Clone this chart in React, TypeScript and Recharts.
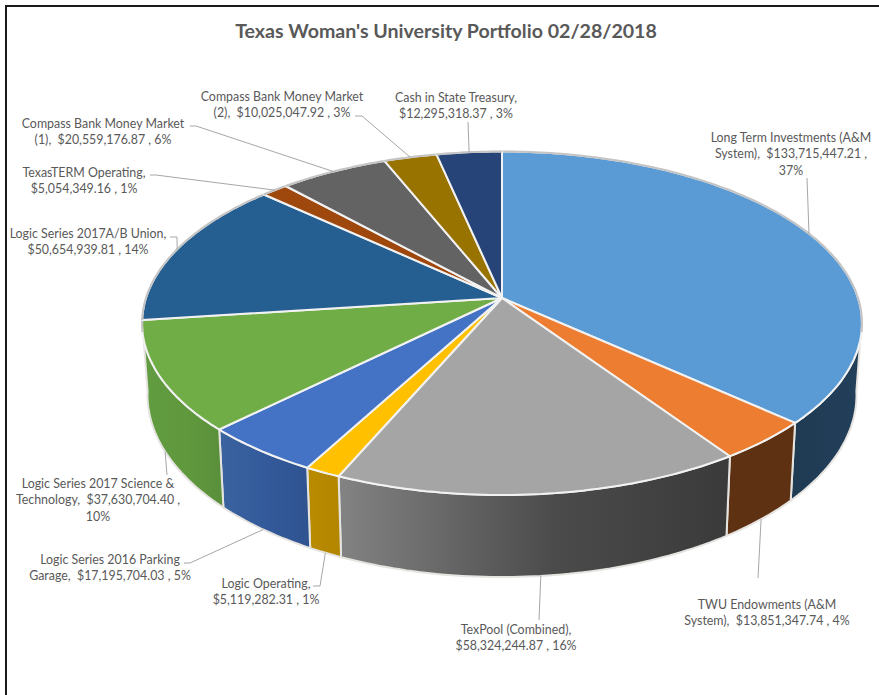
import { Pie, PieChart } from "recharts";

const NAMES = [
  "Long Term Investments (A&M System)",
  "TWU Endowments (A&M System)",
  "TexPool (Combined)",
  "Logic Operating",
  "Logic Series 2016 Parking Garage",
  "Logic Series 2017 Science & Technology",
  "Logic Series 2017A/B Union",
  "TexasTERM Operating",
  "Compass Bank Money Market (1)",
  "Compass Bank Money Market (2)",
  "Cash in State Treasury",
];
const VALUES = [
  133715447.21, 13851347.74, 58324244.87, 5119282.31, 17195704.03, 37630704.4,
  50654939.81, 5054349.16, 20559176.87, 10025047.92, 12295318.37,
];
const TOP_COLORS = [
  "#5b9bd5", "#ed7d31", "#a5a5a5", "#ffc000", "#4472c4", "#70ad47",
  "#255e91", "#9e480e", "#636363", "#997300", "#264478",
];
// left, middle, right of each side wall
const WALL_COLORS = [
  ["#1f3b53", "#213d57", "#223f5a"], ["#5e3113", "#5e3113", "#5e3113"], ["#838383", "#4b4b4b", "#3a3a3a"],
  ["#b98b00", "#b68800", "#b38600"], ["#3a639f", "#33599a", "#2f5390"], ["#629c40", "#5f983d", "#5a8f3b"],
  ["#1d4a73", "#1d4a73", "#1d4a73"], ["#7a380b", "#7a380b", "#7a380b"], ["#4d4d4d", "#4d4d4d", "#4d4d4d"],
  ["#775900", "#775900", "#775900"], ["#1d355e", "#1d355e", "#1d355e"],
];
// wrapped the way the chart wraps them
const LABEL_LINES = [
  ["Long Term Investments (A&M", "System),  $133,715,447.21 ,", "37%"],
  ["TWU Endowments (A&M", "System),  $13,851,347.74 , 4%"],
  ["TexPool (Combined),", "$58,324,244.87 , 16%"],
  ["Logic Operating,", "$5,119,282.31 , 1%"],
  ["Logic Series 2016 Parking", "Garage,  $17,195,704.03 , 5%"],
  ["Logic Series 2017 Science &", "Technology,  $37,630,704.40 ,", "10%"],
  ["Logic Series 2017A/B Union,", "$50,654,939.81 , 14%"],
  ["TexasTERM Operating,", "$5,054,349.16 , 1%"],
  ["Compass Bank Money Market", "(1),  $20,559,176.87 , 6%"],
  ["Compass Bank Money Market", "(2),  $10,025,047.92 , 3%"],
  ["Cash in State Treasury,", "$12,295,318.37 , 3%"],
];
// hand placed label boxes: text centre, first line middle, leader points before the rim
const LABEL_X = [791, 767, 516, 266, 110, 98, 88, 84, 103, 282, 456];
const LABEL_Y = [136.5, 603.5, 628.5, 582.5, 558.5, 482.5, 232.5, 171.5, 122.5, 95.5, 96.5];
const LEADERS = [
  [[807, 178]],
  [[758, 578]],
  [[539, 620]],
  [[313, 586], [320, 586]],
  [[184, 563], [190, 563]],
  [[167, 475]],
  [[170, 237], [177, 237]],
  [[150, 175], [156, 175]],
  [[190, 126], [196, 126]],
  [[355, 116], [362, 116]],
  [[468, 122]],
];

const data = NAMES.map((name, i) => ({ name, value: VALUES[i] }));

const WIDTH = 879;
const HEIGHT = 695;
const CX = 502;
const CY = 298;
const RADIUS = 356;
const TILT = 0.472; // vertical squash of the pie plane
const PERSP = 0.147; // near side bigger than far side
const DEPTH = 70;
const WALL_FROM = 0.12; // walls only show on the near side of the widest point

// recharts angle (degrees, ccw from east) -> point on the tilted rim
const rim = (angle: number, cx: number, cy: number, r: number, lower = false) => {
  const rad = (angle * Math.PI) / 180;
  const u = Math.cos(rad);
  const v = -Math.sin(rad);
  const s = 1 / (1 - PERSP * v);
  return {
    x: cx + r * u * s * (lower ? 0.985 : 1),
    y: cy + r * TILT * v * s + (lower ? DEPTH * s : 0),
    v,
  };
};

const arcPoints = (from: number, to: number, cx: number, cy: number, r: number, lower = false) => {
  const pts = [];
  const n = Math.max(2, Math.ceil(Math.abs(to - from)));
  for (let i = 0; i <= n; i++) pts.push(rim(from + ((to - from) * i) / n, cx, cy, r, lower));
  return pts;
};

const toPath = (pts: { x: number; y: number }[]) =>
  pts.map((p, i) => `${i ? "L" : "M"}${p.x.toFixed(1)} ${p.y.toFixed(1)}`).join(" ");

const WallSlice = (props: any) => {
  const { cx, cy, outerRadius, startAngle, endAngle, index } = props;
  const top = arcPoints(startAngle, endAngle, cx, cy, outerRadius).filter((p) => p.v > WALL_FROM);
  const bottom = arcPoints(endAngle, startAngle, cx, cy, outerRadius, true).filter((p) => p.v > WALL_FROM);
  if (top.length < 2) return <g />;
  const id = `wall-${index}`;
  return (
    <g>
      <defs>
        <linearGradient id={id} x1="0" y1="0" x2="1" y2="0">
          <stop offset="0%" stopColor={WALL_COLORS[index][0]} />
          <stop offset="55%" stopColor={WALL_COLORS[index][1]} />
          <stop offset="100%" stopColor={WALL_COLORS[index][2]} />
        </linearGradient>
      </defs>
      <path d={toPath([...top, ...bottom]) + " Z"} fill={`url(#${id})`} stroke="#e6e4e0" strokeWidth={2} strokeLinejoin="round" />
    </g>
  );
};

const TopSlice = (props: any) => {
  const { cx, cy, outerRadius, startAngle, endAngle, index } = props;
  const pts = arcPoints(startAngle, endAngle, cx, cy, outerRadius);
  const back = pts.filter((p) => p.v < 0.2);
  return (
    <g>
      <path
        d={`M${cx} ${cy} ` + toPath(pts).replace("M", "L") + " Z"}
        fill={TOP_COLORS[index]}
        stroke="#f2f2f2"
        strokeWidth={2}
        strokeLinejoin="round"
      />
      {back.length > 1 && <path d={toPath(back)} fill="none" stroke="#c4c4c4" strokeWidth={2} />}
    </g>
  );
};

const SliceLabel = (props: any) => {
  const { cx, cy, outerRadius, midAngle, index } = props;
  const front = -Math.sin((midAngle * Math.PI) / 180) > 0.2;
  const end = rim(midAngle, cx, cy, outerRadius, front);
  const line = [...LEADERS[index].map(([x, y]) => ({ x, y })), end];
  return (
    <g>
      <path d={toPath(line)} fill="none" stroke="#a6a6a6" strokeWidth={1} />
      <text
        x={LABEL_X[index]}
        y={LABEL_Y[index]}
        textAnchor="middle"
        dominantBaseline="central"
        fontFamily="Lato, sans-serif"
        fontSize={12.4}
        fill="#595959"
      >
        {LABEL_LINES[index].map((t, i) => (
          <tspan key={i} x={LABEL_X[index]} dy={i ? 16.8 : 0} xmlSpace="preserve">
            {t}
          </tspan>
        ))}
      </text>
    </g>
  );
};

export default function App() {
  return (
    <div style={{ position: "absolute", left: 0, top: 0, width: WIDTH, height: HEIGHT, background: "#fff", overflow: "hidden" }}>
      <div style={{ position: "absolute", left: 5, top: 5, width: WIDTH, height: HEIGHT, borderLeft: "2px solid #1a1a1a", borderTop: "2px solid #1a1a1a" }} />
      <div
        style={{
          position: "absolute",
          left: 0,
          top: 18,
          width: 892,
          textAlign: "center",
          fontFamily: "Lato, sans-serif",
          fontWeight: 700,
          fontSize: 19.6,
          lineHeight: "26px",
          color: "#595959",
        }}
      >
        Texas Woman's University Portfolio 02/28/2018
      </div>
      <div style={{ position: "absolute", left: 0, top: 0 }}>
        <PieChart width={WIDTH} height={HEIGHT} margin={{ top: 0, right: 0, bottom: 0, left: 0 }}>
          <Pie
            data={data}
            dataKey="value"
            cx={CX}
            cy={CY}
            outerRadius={RADIUS}
            startAngle={90}
            endAngle={-270}
            shape={WallSlice}
            label={false}
            labelLine={false}
            isAnimationActive={false}
          />
          <Pie
            data={data}
            dataKey="value"
            cx={CX}
            cy={CY}
            outerRadius={RADIUS}
            startAngle={90}
            endAngle={-270}
            shape={TopSlice}
            label={SliceLabel}
            labelLine={false}
            isAnimationActive={false}
          />
        </PieChart>
      </div>
    </div>
  );
}
